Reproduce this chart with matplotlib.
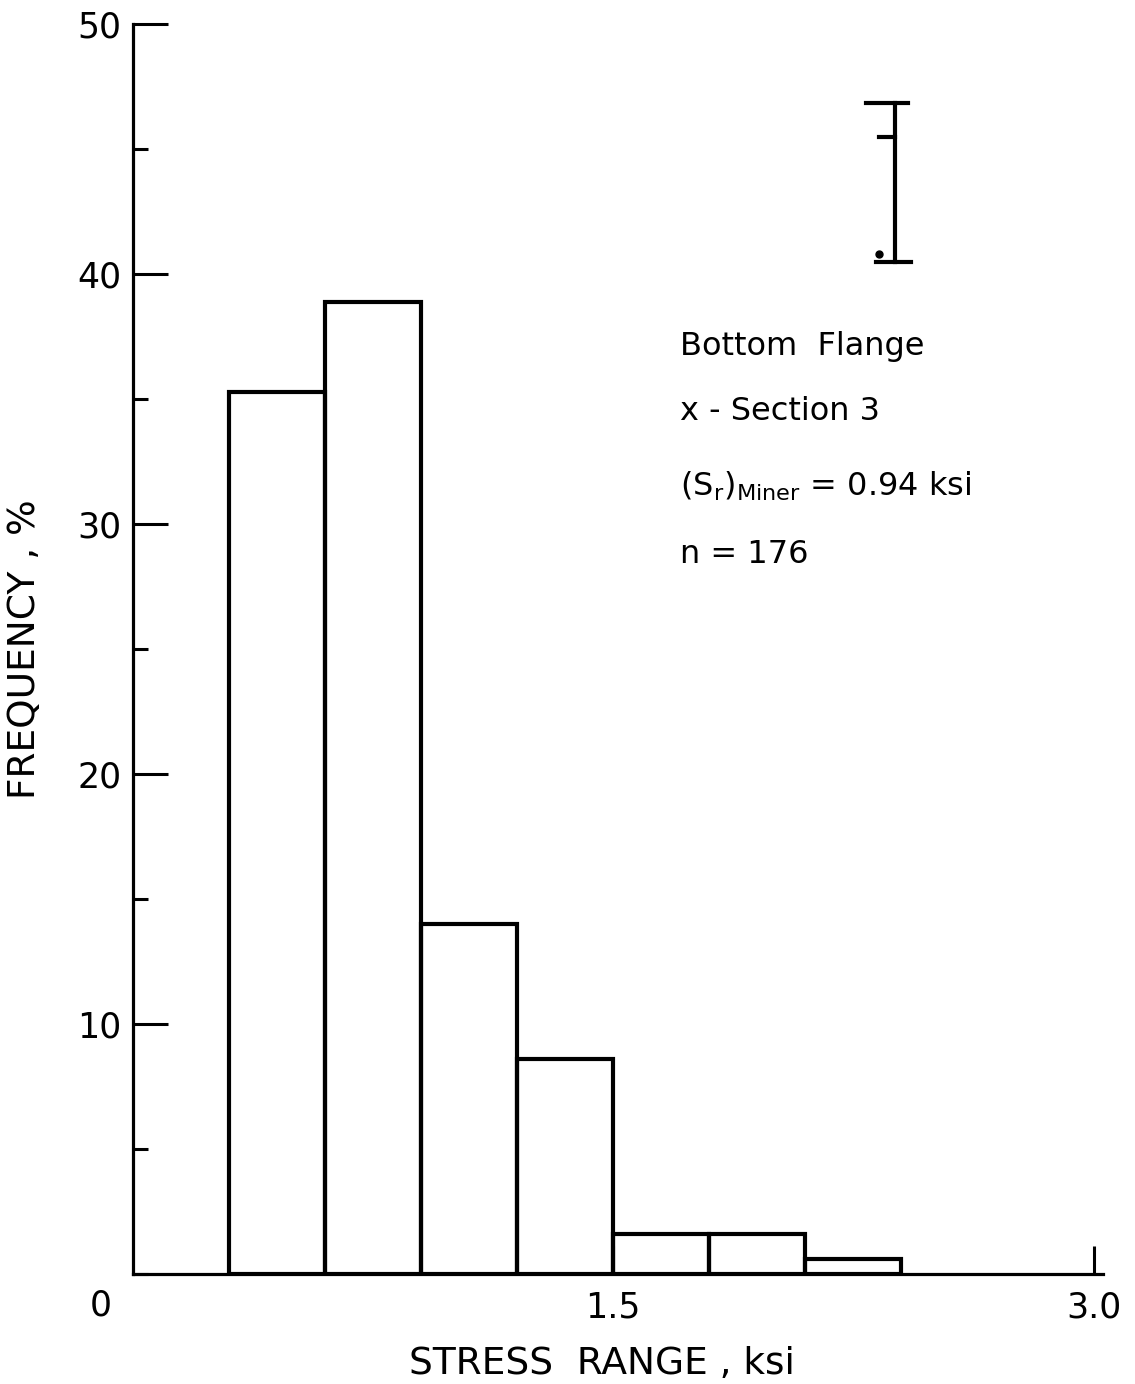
import numpy as np
import matplotlib
matplotlib.use("Agg")
import matplotlib.pyplot as plt
from matplotlib.ticker import MultipleLocator

# histogram data
bin_left = [0.3, 0.6, 0.9, 1.2, 1.5, 1.8, 2.1]
bin_width = 0.3
freq_pct = [35.3, 38.9, 14.0, 8.6, 1.6, 1.6, 0.6]

y_major = [10, 20, 30, 40, 50]
x_ticks = [1.5, 3.0]
x_ticklabels = ["1.5", "3.0"]

info_lines = ["Bottom  Flange",
              "x - Section 3",
              r"$(\mathrm{S}_\mathrm{r})_{\mathrm{Miner}}$ = 0.94 ksi",
              "n = 176"]
info_y = [36.76, 34.16, 31.16, 28.44]

plt.rcParams['font.family'] = ['DejaVu Sans']
plt.rcParams['mathtext.fontset'] = 'dejavusans'

fig = plt.figure(figsize=(11.35, 13.84), dpi=100)
ax = fig.add_axes([0.117, 0.0795, 0.855, 0.903])

ax.bar(bin_left, freq_pct, width=bin_width, align='edge', fill=False,
       edgecolor='black', linewidth=3.0)

ax.set_xlim(0, 3.03)
ax.set_ylim(0, 50)

for s in ['top', 'right']:
    ax.spines[s].set_visible(False)
for s in ['left', 'bottom']:
    ax.spines[s].set_linewidth(2.3)

ax.yaxis.set_minor_locator(MultipleLocator(5))
ax.set_yticks(y_major)
ax.tick_params(axis='y', which='major', direction='in', length=25, width=2.2,
               labelsize=25, pad=8)
ax.tick_params(axis='y', which='minor', direction='in', length=11, width=2.2)

ax.set_xticks(x_ticks)
ax.set_xticklabels(x_ticklabels)
ax.tick_params(axis='x', which='major', direction='in', length=20, width=2.2,
               labelsize=25, pad=12)

ax.text(-0.1, -0.6, "0", ha='center', va='top', fontsize=25)

ax.set_xlabel("STRESS  RANGE , ksi", fontsize=27)
ax.xaxis.set_label_coords(0.4835, -0.058)
ax.set_ylabel("FREQUENCY , %", fontsize=27)
ax.yaxis.set_label_coords(-0.093, 0.5)

# annotation text
for t, y in zip(info_lines, info_y):
    ax.text(1.71, y, t, ha='left', va='baseline', fontsize=23)

# scale bar symbol at upper right
ax.plot([2.38, 2.38], [40.5, 46.85], color='black', linewidth=3)
ax.plot([2.29, 2.42], [46.85, 46.85], color='black', linewidth=3)
ax.plot([2.33, 2.38], [45.5, 45.5], color='black', linewidth=3)
ax.plot([2.32, 2.43], [40.5, 40.5], color='black', linewidth=3)
ax.plot([2.33], [40.8], 'o', color='black', markersize=5)

fig.savefig("out.png", dpi=100)
